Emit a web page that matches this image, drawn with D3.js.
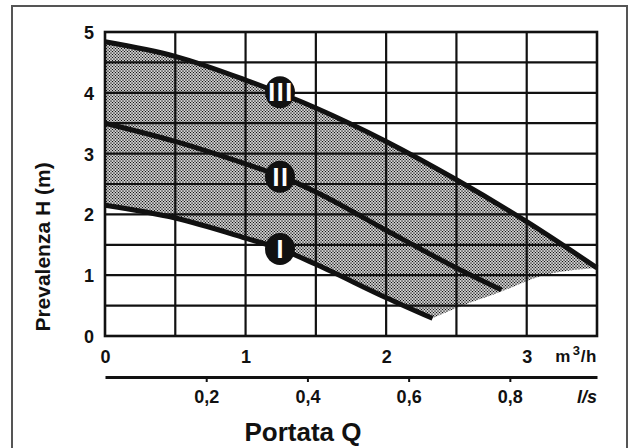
<!DOCTYPE html>
<html lang="it">
<head>
  <meta charset="UTF-8">
  <script src="https://cdn.jsdelivr.net/npm/d3@7"></script>
  <title>Prevalenza / Portata</title>
  <style>
    body { margin: 0; background: #fff; }
    svg { display: block; }
  </style>
</head>
<body>
  <svg></svg>
</body>
<script>
const width = 630;
const height = 448;
const margin = { left: 105, top: 32, right: 33, bottom: 112 };
const innerWidth = width - margin.left - margin.right;
const innerHeight = height - margin.top - margin.bottom;
const font = '"Liberation Sans", Arial, sans-serif';

// portata in m3/h, prevalenza in m
const curveIIIQ = [0, 0.5, 1, 1.5, 2, 2.5, 3, 3.5];
const curveIIIH = [4.84, 4.6, 4.21, 3.75, 3.2, 2.57, 1.88, 1.12];
const curveIIQ = [0, 0.5, 1, 1.25, 1.5, 2, 2.5, 2.82];
const curveIIH = [3.5, 3.2, 2.83, 2.63, 2.37, 1.74, 1.12, 0.76];
const curveIQ = [0, 0.5, 1, 1.25, 1.5, 2, 2.33];
const curveIH = [2.15, 1.94, 1.61, 1.43, 1.18, 0.63, 0.29];
// bordo inferiore della zona retinata
const edgeQ = [2.33, 2.5, 2.82, 3.09, 3.5];
const edgeH = [0.29, 0.46, 0.73, 0.98, 1.12];

const speedNames = ['I', 'II', 'III'];
const labelQ = [1.245, 1.245, 1.245];
const labelH = [1.43, 2.62, 4.01];

const qTicks = [0, 1, 2, 3];
const hTicks = [0, 1, 2, 3, 4, 5];
const lsTicks = [0.2, 0.4, 0.6, 0.8];
const qGrid = [0.5, 1, 1.5, 2, 2.5, 3];
const hGrid = [0.5, 1, 1.5, 2, 2.5, 3, 3.5, 4, 4.5];

const zip = (qs, hs) => qs.map((q, i) => [q, hs[i]]);

const svg = d3.select('svg')
  .attr('width', width).attr('height', height)
  .attr('font-family', font).attr('font-weight', 'bold');

// cornice esterna
svg.append('path')
  .attr('d', 'M12,448V6H627V448')
  .attr('fill', 'none')
  .attr('stroke', '#555')
  .attr('stroke-width', 2);

// retino a punti
const defs = svg.append('defs');
const pat = defs.append('pattern')
  .attr('id', 'dots')
  .attr('patternUnits', 'userSpaceOnUse')
  .attr('width', 3).attr('height', 3);
pat.append('rect').attr('width', 3).attr('height', 3).attr('fill', '#fff');
[[0, 0], [3, 0], [0, 3], [3, 3], [1.5, 1.5]].forEach(([cx, cy]) => {
  pat.append('circle').attr('cx', cx).attr('cy', cy).attr('r', 0.85).attr('fill', '#111');
});

const root = svg.append('g').attr('transform', `translate(${margin.left},${margin.top})`);

const xScale = d3.scaleLinear().domain([0, 3.5]).range([0, innerWidth]);
const yScale = d3.scaleLinear().domain([0, 5]).range([innerHeight, 0]);
// l/s = m3/h / 3.6
const lsScale = d3.scaleLinear().domain([0, 3.5 / 3.6]).range([0, innerWidth]);

const line = d3.line().x(d => xScale(d[0])).y(d => yScale(d[1])).curve(d3.curveMonotoneX);

// zona retinata tra curva III e curva I
const shadePath = line(zip(curveIIIQ, curveIIIH))
  + line(zip(edgeQ, edgeH).reverse()).replace('M', 'L')
  + line(zip(curveIQ, curveIH).reverse()).replace('M', 'L')
  + 'Z';
root.append('path')
  .attr('d', shadePath)
  .attr('fill', 'url(#dots)');

// griglia
root.append('g').selectAll('line')
  .data(qGrid)
  .join('line')
  .attr('x1', d => xScale(d)).attr('x2', d => xScale(d))
  .attr('y1', 0).attr('y2', innerHeight)
  .attr('stroke', '#111').attr('stroke-width', 2.2);
root.append('g').selectAll('line')
  .data(hGrid)
  .join('line')
  .attr('x1', 0).attr('x2', innerWidth)
  .attr('y1', d => yScale(d)).attr('y2', d => yScale(d))
  .attr('stroke', '#111').attr('stroke-width', 2.2);
root.append('rect')
  .attr('width', innerWidth).attr('height', innerHeight)
  .attr('fill', 'none').attr('stroke', '#111').attr('stroke-width', 2.6);

// curve
const curves = [zip(curveIQ, curveIH), zip(curveIIQ, curveIIH), zip(curveIIIQ, curveIIIH)];
root.append('g').selectAll('path')
  .data(curves)
  .join('path')
  .attr('d', line)
  .attr('fill', 'none')
  .attr('stroke', '#111')
  .attr('stroke-width', 5);

// etichette velocita
const badges = root.append('g').selectAll('g')
  .data(speedNames)
  .join('g')
  .attr('transform', (d, i) => `translate(${xScale(labelQ[i])},${yScale(labelH[i])})`);
badges.append('ellipse').attr('rx', 15).attr('ry', 16).attr('fill', '#111');
badges.append('text')
  .attr('text-anchor', 'middle')
  .attr('y', 9)
  .attr('x', d => d.length > 1 ? 1 : 0)
  .attr('font-size', 25)
  .attr('letter-spacing', d => d.length > 1 ? 1.5 : 0)
  .attr('fill', '#fff')
  .text(d => d);

// assi
const styleAxis = g => g
  .attr('font-size', 18)
  .attr('font-family', font)
  .call(s => s.selectAll('text').attr('fill', '#111'));

const yAxis = d3.axisLeft(yScale).tickValues(hTicks).tickSize(0).tickPadding(11).tickFormat(d3.format('d'));
root.append('g').call(yAxis).call(styleAxis)
  .call(g => g.select('.domain').remove())
  .call(g => g.selectAll('text').attr('dy', null).attr('y', 6.5));

const xAxis = d3.axisBottom(xScale).tickValues(qTicks).tickSize(0).tickPadding(14).tickFormat(d3.format('d'));
root.append('g').attr('transform', `translate(0,${innerHeight})`).call(xAxis).call(styleAxis)
  .call(g => g.select('.domain').remove())
  .call(g => g.selectAll('text').attr('dy', null).attr('y', 27));

const lsAxis = d3.axisBottom(lsScale).tickValues(lsTicks).tickSize(5).tickSizeOuter(0).tickPadding(8)
  .tickFormat(d => d3.format('.1f')(d).replace('.', ','));
const lsG = root.append('g').attr('transform', `translate(0,${innerHeight + 41})`).call(lsAxis).call(styleAxis)
  .call(g => g.selectAll('text').attr('dy', null).attr('y', 26));
lsG.select('.domain').attr('stroke', '#111').attr('stroke-width', 3);
lsG.selectAll('.tick line').attr('stroke', '#111').attr('stroke-width', 2);

// unita
const unitQ = root.append('text')
  .attr('x', innerWidth).attr('y', innerHeight + 26)
  .attr('text-anchor', 'end')
  .attr('fill', '#111')
  .attr('font-size', 17)
  .attr('letter-spacing', 0.6);
unitQ.append('tspan').text('m');
unitQ.append('tspan').attr('dy', -7).attr('dx', 2).attr('font-size', 13).text('3');
unitQ.append('tspan').attr('dy', 7).text('/h');

root.append('text')
  .attr('x', innerWidth).attr('y', innerHeight + 67)
  .attr('text-anchor', 'end')
  .attr('fill', '#111')
  .attr('font-size', 18)
  .attr('font-style', 'italic')
  .text('l/s');

// titoli
svg.append('text')
  .attr('transform', 'translate(50,247) rotate(-90)')
  .attr('text-anchor', 'middle')
  .attr('fill', '#111')
  .attr('font-size', 21)
  .text('Prevalenza H (m)');

svg.append('text')
  .attr('x', 303).attr('y', 441)
  .attr('text-anchor', 'middle')
  .attr('fill', '#111')
  .attr('font-size', 26)
  .text('Portata Q');
</script>
</html>
